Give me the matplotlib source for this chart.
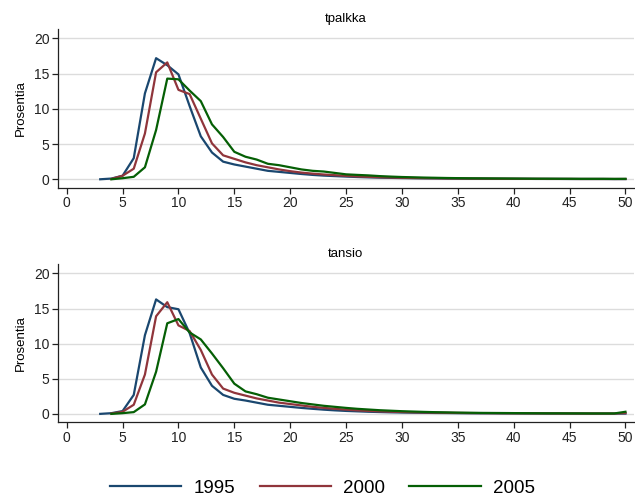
import numpy as np
import matplotlib
matplotlib.use("Agg")
import matplotlib.pyplot as plt

plt.rcParams['font.family'] = ['Liberation Sans', 'DejaVu Sans']

# tuntipalkka / tuntia -> prosenttijakauma, x = 3..50
x = np.arange(3, 51)
nan = np.nan

tpalkka_1995 = [0.0, 0.1, 0.5, 3.0, 12.2, 17.2, 16.2, 14.9, 10.4, 6.1, 3.8, 2.5, 2.1, 1.8, 1.5, 1.2,
                1.05, 0.9, 0.75, 0.62, 0.52, 0.45, 0.38, 0.32, 0.27, 0.23, 0.2, 0.17, 0.15, 0.13,
                0.12, 0.1, 0.09, 0.08, 0.08, 0.07, 0.07, 0.06, 0.06, 0.05, 0.05, 0.05, 0.04, 0.04,
                0.04, 0.04, 0.03, 0.03]
tpalkka_2000 = [nan, 0.05, 0.5, 1.5, 6.5, 15.2, 16.6, 12.7, 12.1, 8.6, 5.1, 3.4, 2.9, 2.4, 2.0, 1.7,
                1.4, 1.15, 0.95, 0.8, 0.68, 0.58, 0.48, 0.4, 0.34, 0.29, 0.25, 0.21, 0.18, 0.16,
                0.14, 0.12, 0.11, 0.1, 0.09, 0.08, 0.07, 0.07, 0.06, 0.06, 0.05, 0.05, 0.05, 0.04,
                0.04, 0.04, 0.04, 0.04]
tpalkka_2005 = [nan, 0.0, 0.15, 0.35, 1.7, 7.0, 14.3, 14.2, 12.6, 11.1, 7.8, 6.0, 3.9, 3.2, 2.8, 2.2,
                2.0, 1.7, 1.4, 1.2, 1.1, 0.9, 0.7, 0.62, 0.55, 0.45, 0.38, 0.32, 0.28, 0.24,
                0.21, 0.18, 0.16, 0.14, 0.13, 0.12, 0.11, 0.1, 0.09, 0.08, 0.08, 0.07, 0.07, 0.06,
                0.06, 0.06, 0.05, 0.06]

tansio_1995 = [0.0, 0.1, 0.4, 2.7, 11.2, 16.3, 15.2, 14.9, 11.5, 6.6, 4.0, 2.7, 2.15, 1.9, 1.6, 1.3,
               1.15, 1.0, 0.85, 0.72, 0.6, 0.5, 0.42, 0.36, 0.3, 0.26, 0.22, 0.19, 0.17, 0.15,
               0.13, 0.12, 0.1, 0.09, 0.08, 0.08, 0.07, 0.07, 0.06, 0.06, 0.05, 0.05, 0.05, 0.04,
               0.04, 0.04, 0.04, 0.04]
tansio_2000 = [nan, 0.05, 0.3, 1.3, 5.6, 13.9, 15.9, 12.6, 11.8, 9.1, 5.6, 3.6, 3.0, 2.6, 2.2, 1.9,
               1.6, 1.4, 1.2, 1.0, 0.85, 0.72, 0.6, 0.5, 0.42, 0.36, 0.31, 0.27, 0.23, 0.2,
               0.18, 0.16, 0.14, 0.12, 0.11, 0.1, 0.09, 0.08, 0.08, 0.07, 0.07, 0.06, 0.06, 0.05,
               0.05, 0.05, 0.05, 0.12]
tansio_2005 = [nan, 0.0, 0.1, 0.25, 1.35, 6.0, 12.9, 13.5, 11.6, 10.6, 8.6, 6.5, 4.3, 3.2, 2.8, 2.3,
               2.05, 1.8, 1.55, 1.35, 1.15, 1.0, 0.85, 0.72, 0.62, 0.52, 0.45, 0.38, 0.33, 0.28,
               0.24, 0.21, 0.18, 0.16, 0.14, 0.13, 0.12, 0.11, 0.1, 0.09, 0.08, 0.08, 0.07, 0.07,
               0.06, 0.06, 0.06, 0.3]

years = ['1995', '2000', '2005']
colors = ['#1a476f', '#90353b', '#055f05']

panels = [('tpalkka', [tpalkka_1995, tpalkka_2000, tpalkka_2005]),
          ('tansio', [tansio_1995, tansio_2000, tansio_2005])]

fig = plt.figure(figsize=(6.35, 4.97), dpi=100)
positions = [[0.0913, 0.6223, 0.9067, 0.3187],
             [0.0913, 0.1503, 0.9067, 0.3179]]

lines = []
for pos, (title, series) in zip(positions, panels):
    ax = fig.add_axes(pos)
    for vals, col, yr in zip(series, colors, years):
        ln, = ax.plot(x, vals, color=col, lw=1.6, label=yr)
        if title == 'tpalkka':
            lines.append(ln)
    ax.set_xlim(-0.78, 50.74)
    ax.set_ylim(-1.2, 21.3)
    ax.set_xticks(range(0, 51, 5))
    ax.set_yticks(range(0, 21, 5))
    ax.grid(axis='y', color='#dcdcdc', lw=1.0)
    ax.set_axisbelow(True)
    for s in ['top', 'right']:
        ax.spines[s].set_visible(False)
    for s in ['left', 'bottom']:
        ax.spines[s].set_color('#222222')
        ax.spines[s].set_linewidth(0.9)
    ax.tick_params(direction='out', length=4, width=0.9, labelsize=10, colors='#222222', pad=2)
    ax.set_ylabel('Prosentia', fontsize=9.5, labelpad=5)
    ax.set_title(title, fontsize=9.5, pad=5)

fig.legend(lines, years, loc='center', bbox_to_anchor=(0.508, 0.018), ncol=3, frameon=False,
           fontsize=13.5, handlelength=3.8, handletextpad=0.65, columnspacing=1.3,
           borderaxespad=0, borderpad=0)

fig.savefig('out.png', dpi=100)
